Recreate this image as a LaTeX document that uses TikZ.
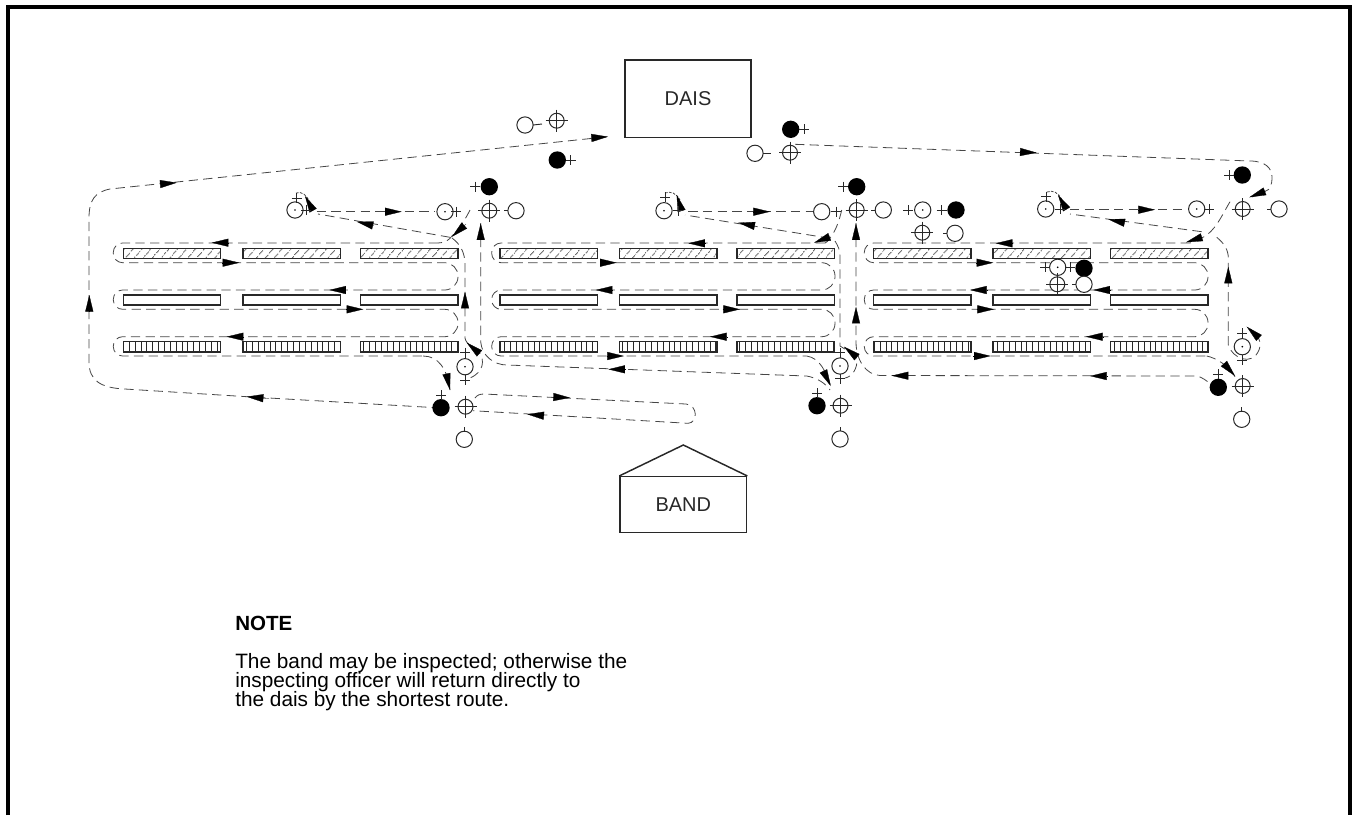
\documentclass[tikz,border=0pt]{standalone}
\usepackage{fontspec}
\setmainfont{Liberation Sans}
\usepackage{xcolor}
\usepackage{tikz}
\usetikzlibrary{calc,arrows.meta,patterns.meta}
\definecolor{routegray}{RGB}{70, 70, 70}
\definecolor{rankgray}{RGB}{40, 40, 40}
\definecolor{hatchgray}{RGB}{100, 100, 100}

% one inspection pass round the three ranks of a guard
\newcommand{\rankroute}[4]{%
    \draw[route] (#3,243) [rounded corners=7pt] -- (#1,243) -- (#1,262.7)
        [rounded corners=10pt] -- (#2,262.7) -- (#2,290)
        [rounded corners=7pt] -- (#1,290) -- (#1,309.3)
        [rounded corners=10pt] -- (#2,309.3) -- (#2,336.7)
        [rounded corners=7pt] -- (#1,336.7) -- (#1,356) -- (#4,356);
}
\newcommand{\crossman}[2]{%
    \node[crossman] (#1) at (#2) {};
    \draw[tickline] ($(#1)+(-11,0)$) -- ($(#1)+(11,0)$) ($(#1)+(0,-11)$) -- ($(#1)+(0,11)$);
}
\newcommand{\plusat}[1]{\draw[tickline] ($(#1)+(-5,0)$) -- ($(#1)+(5,0)$) ($(#1)+(0,-5)$) -- ($(#1)+(0,5)$);}

\begin{document}
\begin{tikzpicture}[x=0.75pt,y=-0.75pt,
    route/.style={routegray, line width=0.6pt, dash pattern=on 7pt off 4pt},
    tip/.style={-{Triangle[length=12.5pt,width=6pt]}, line width=0.2pt, black},
    rankbox/.style={draw=rankgray, line width=1pt, minimum width=73pt, minimum height=7.6pt, inner sep=0pt},
    hatchrank/.style={rankbox, pattern={Lines[angle=50,distance=5.4pt,line width=0.75pt]}, pattern color=hatchgray},
    plainrank/.style={rankbox},
    barrank/.style={rankbox, pattern={Lines[angle=90,distance=4.4pt,line width=0.45pt]}, pattern color=rankgray},
    tickline/.style={line width=0.7pt, rankgray},
    whiteman/.style={circle, draw=rankgray, fill=white, line width=0.75pt, minimum size=12.2pt, inner sep=0pt},
    blackman/.style={circle, fill=black, minimum size=13pt, inner sep=0pt},
    dotman/.style={whiteman, path picture={\fill[black] (path picture bounding box.center) circle (0.7pt);}},
    crossman/.style={whiteman, minimum size=11.2pt},
    building/.style={draw=rankgray, line width=1.1pt, font=\fontsize{15pt}{17pt}\selectfont, text=rankgray}]

    \useasboundingbox (0,0) rectangle (1358,815);
    % Frame, open at the foot of the sheet
    \draw[line width=3pt] (8,815) -- (8,7) -- (1350,7) -- (1350,815);

    % Dais and band
    \node[building, minimum width=94.5pt, minimum height=58pt, inner sep=0pt] (dais) at (688,98.7) {DAIS};
    \node[building, minimum width=95pt, minimum height=41.7pt, inner sep=0pt] (band) at (683.3,504.5) {BAND};
    \draw[line width=1.1pt, rankgray] (band.north west) -- (683.3,445) -- (band.north east);

    % Ranks
    \foreach \cx [count=\n] in {172,291.7,409.2,548.7,668.3,785.7,922.2,1041.8,1159.2} {
        \node[hatchrank] (front\n) at (\cx,253.5) {};
        \node[plainrank] (centre\n) at (\cx,300) {};
        \node[barrank] (rear\n) at (\cx,346.8) {};
    }

    % Passes through the ranks
    \rankroute{113.3}{458}{438}{423}
    \rankroute{491.7}{835}{825}{806.7}
    \rankroute{864.3}{1208}{1190}{1206.7}

    % First guard, right flank and return
    \draw[route] (470,210) .. controls (464,222) and (458,230) .. (452,236) .. controls (449,240) and (445,243) .. (438,243);
    \draw[route] (423,356) .. controls (438,356) and (447,368) .. (450,390);
    \draw[route] (452,238) .. controls (460,244) and (465,252) .. (465,265) -- (465,338) .. controls (466,345) and (476,348) .. (479,352) .. controls (485,360) and (484,372) .. (470,378);
    % To the band and back
    \draw[route] (475,398) .. controls (477,395) and (480,394) .. (484,394) -- (686,404) .. controls (698,405) and (698,423) .. (688,423.3) -- (473,410.7);
    % Second guard
    \draw[route] (841.7,210) .. controls (839,222) and (835,232) .. (830,238) .. controls (828,241) and (826,243) .. (825,243);
    \draw[route] (806.7,356) .. controls (820,358) and (826,372) .. (830.7,386);
    \draw[route] (835,241) .. controls (838,246) and (840,250) .. (840,256) -- (840,346) .. controls (844,349) and (853,352) .. (856.7,359) .. controls (858,368) and (852,377) .. (845,378);
    % Third guard
    \draw[route] (1230,201.7) .. controls (1222,215) and (1215,232) .. (1201.7,238) -- (1190,243);
    \draw[route] (1206.7,356) .. controls (1216,358) and (1228,365) .. (1235,376.7);
    \draw[route] (1216.7,237.3) .. controls (1224,243) and (1228.3,250) .. (1228.3,258) -- (1228.3,345) .. controls (1232,358) and (1252,367) .. (1259,350) .. controls (1262,342) and (1258,334) .. (1250,329);

    % Rear of the ranks between the guards
    \draw[route] (480.7,223) -- (480.7,342) .. controls (482,356) and (494,365) .. (507,365) -- (806.7,376) .. controls (818,378) and (826,384) .. (830,390);
    \draw[route] (856,223) -- (856,342) .. controls (856,360) and (866,375) .. (880,375.5) -- (1196.7,376) .. controls (1202,377) and (1207,381) .. (1211.7,385);

    % Round to the dais
    \draw[route] (441,408) -- (247,396.7) -- (125,389) .. controls (100,388) and (89,380) .. (89,362) -- (89,218) .. controls (89,200) and (95,192) .. (110,189) -- (608,136.7);
    \draw[route] (795,144.3) -- (1250,161) .. controls (1265,161) and (1272,168) .. (1272,177) .. controls (1272,185) and (1270,190) .. (1265.7,191) -- (1252,197);

    % Out to the flank markers and back
    \draw[route] (316.7,211.7) -- (435,211.7);
    \draw[route] (450,237.3) -- (318,214);
    \draw[route] (688.3,211.7) -- (813.3,211.7);
    \draw[route] (830,238.3) -- (685,215);
    \draw[route] (1070,209.7) -- (1185,209.7);
    \draw[route] (1201.7,231.7) -- (1070,214);
    % Turns at the flank markers
    \draw[route, dash pattern=on 2pt off 1pt] (296,193) .. controls (302,191) and (307,195) .. (310,203);
    \draw[route, dash pattern=on 2pt off 1pt] (665,193) .. controls (671,191) and (676,193) .. (680,200);
    \draw[route, dash pattern=on 2pt off 1pt] (1047,192) .. controls (1053,190) and (1058,192) .. (1062,200);

    % Direction of march
    \draw[tip] (228,242.7) -- (211.7,242.7);
    \draw[tip] (222,262.7) -- (239.3,262.7);
    \draw[tip] (345,290) -- (329.3,290);
    \draw[tip] (346,309.3) -- (363.3,309.3);
    \draw[tip] (244,336.7) -- (226.7,336.7);
    \draw[tip] (446.7,375) -- (450,390);
    \draw[tip] (269,398.7) -- (246.7,396.7);
    \draw[tip] (89.3,310) -- (89.3,295);
    \draw[tip] (160.7,184) -- (176.7,182.7);
    \draw[tip] (590.7,138) -- (608,136.7);
    \draw[tip] (385,211.7) -- (401.7,211.7);
    \draw[tip] (374,225.7) -- (356.7,221.7);
    \draw[tip] (466,224) -- (452,236.7);
    \draw[tip] (480.7,238) -- (480.7,223.3);
    \draw[tip] (465,306.7) -- (465,291.7);
    \draw[tip] (479,353) -- (466.7,342.7);
    \draw[tip] (553.3,397) -- (570,397.7);
    \draw[tip] (544,415.7) -- (527.3,414.3);
    \draw[tip] (705,243.3) -- (688.3,243.3);
    \draw[tip] (600,262.7) -- (616.7,262.7);
    \draw[tip] (611.7,290) -- (595.7,290);
    \draw[tip] (722.7,309.3) -- (740,309.3);
    \draw[tip] (727.3,336.7) -- (710,336.7);
    \draw[tip] (606.7,356) -- (624,356);
    \draw[tip] (625,369.3) -- (608.3,369.3);
    \draw[tip] (823.3,370.7) -- (830.7,386);
    \draw[tip] (310,205) -- (305,196);
    \draw[tip] (681,209) -- (676.7,195);
    \draw[tip] (755,211.7) -- (770,211.7);
    \draw[tip] (755,226) -- (738.3,222.7);
    \draw[tip] (830,236.7) -- (814,242.7);
    \draw[tip] (856.7,357) -- (844,346.7);
    \draw[tip] (856,236.7) -- (856,223.3);
    \draw[tip] (856,320) -- (856,306.7);
    \draw[tip] (1011.7,243.3) -- (995.7,243.3);
    \draw[tip] (976,262.7) -- (993.3,262.7);
    \draw[tip] (987.3,290) -- (970,290);
    \draw[tip] (1111,290) -- (1093.3,290);
    \draw[tip] (976.7,309.3) -- (994,309.3);
    \draw[tip] (1103.3,336.7) -- (1086,336.7);
    \draw[tip] (973.3,356) -- (990.7,356);
    \draw[tip] (1224.3,364) -- (1235,376);
    \draw[tip] (907.3,375.7) -- (891.7,375.7);
    \draw[tip] (1107.7,376) -- (1090,376);
    \draw[tip] (1228.3,281.7) -- (1228.3,266.7);
    \draw[tip] (1258.3,337.3) -- (1246.7,326.7);
    \draw[tip] (1201.7,237.3) -- (1186,242.3);
    \draw[tip] (1020,152) -- (1036.7,152.7);
    \draw[tip] (1265.7,191) -- (1249.3,197.3);
    \draw[tip] (1138.3,209.7) -- (1155,209.7);
    \draw[tip] (1124.3,222.7) -- (1108.3,219.3);
    \draw[tip] (1065,206.7) -- (1058,195);

    % Officers at the dais
    \node[whiteman] (salutewhite) at (525,125) {};
    \draw[tickline] (533,125) -- (542,124);
    \crossman{salutecross}{556.7,120.7}
    \node[blackman] (saluteblack) at (557.3,160) {};
    \plusat{570.7,160}
    \node[blackman] (returnblack) at (790.7,129.3) {};
    \plusat{804,129.3}
    \node[whiteman] (returnwhite) at (755,153.3) {};
    \draw[tickline] (763,153) -- (771,153);
    \crossman{returncross}{790,152.7}

    % Officers, first guard
    \node[dotman] (flankdotA) at (295,210) {};
    \plusat{296.5,198}
    \plusat{306,210}
    \node[dotman] (flankdotB) at (445,211.7) {};
    \plusat{456,211.7}
    \node[blackman] (headblackA) at (489.3,186.7) {};
    \plusat{475,186.7}
    \crossman{headcrossA}{489.3,210.7}
    \node[whiteman] (headwhiteA) at (516,210.7) {};
    \draw[tickline] (504,210.7) -- (508,210.7);
    \node[dotman] (reardotA) at (465,366.7) {};
    \plusat{465,352.7}
    \plusat{465,380}
    \node[blackman] (rearblackA) at (441,407.7) {};
    \plusat{441,395}
    \crossman{rearcrossA}{465.5,406.7}
    \node[whiteman] (rearwhiteA) at (464.3,439.3) {};
    \draw[tickline] (464.3,427) -- (464.3,431.5);

    % Officers, second guard
    \node[dotman] (flankdotC) at (664,210.7) {};
    \plusat{665,197}
    \plusat{678,210.7}
    \node[whiteman] (flankwhiteC) at (821.7,211.7) {};
    \plusat{836,211.7}
    \node[blackman] (headblackB) at (856.7,186.7) {};
    \plusat{843.3,186.7}
    \crossman{headcrossB}{856.7,210}
    \node[whiteman] (headwhiteB) at (883.3,210) {};
    \draw[tickline] (871,210) -- (875,210);
    \node[dotman] (reardotB) at (840,366) {};
    \plusat{840,352.7}
    \plusat{840,378.5}
    \node[blackman] (rearblackB) at (817,405.7) {};
    \plusat{817,393}
    \crossman{rearcrossB}{840.5,405.7}
    \node[whiteman] (rearwhiteB) at (840,439) {};
    \draw[tickline] (840,427) -- (840,431);

    % Officers standing between the guards
    \node[dotman] (middot) at (922.7,210) {};
    \plusat{908.3,210}
    \node[blackman] (midblack) at (956,210) {};
    \plusat{941.7,210}
    \crossman{midcross}{922.3,232.7}
    \node[whiteman] (midwhite) at (955,233.3) {};
    \draw[tickline] (943,233.3) -- (947,233.3);

    % Officers in the third guard
    \node[dotman] (rankdot) at (1057.7,267.3) {};
    \plusat{1045,267.3}
    \plusat{1070,267.3}
    \node[blackman] (rankblack) at (1084,268.3) {};
    \crossman{rankcross}{1057.3,284.3}
    \node[whiteman] (rankwhite) at (1084,284.3) {};
    \draw[tickline] (1072,284.3) -- (1076,284.3);

    % Officers, third guard
    \node[dotman] (flankdotD) at (1045.7,209) {};
    \plusat{1046,196.7}
    \plusat{1060,209}
    \node[dotman] (flankdotE) at (1196.7,209) {};
    \plusat{1209,209}
    \node[blackman] (headblackC) at (1242.3,175) {};
    \plusat{1229,175}
    \crossman{headcrossC}{1242.7,209}
    \node[whiteman] (headwhiteC) at (1279,209) {};
    \draw[tickline] (1267,209) -- (1271,209);
    \node[dotman] (reardotC) at (1242.3,346.7) {};
    \plusat{1242.3,333.3}
    \plusat{1242.3,360}
    \node[blackman] (rearblackC) at (1218.3,387.3) {};
    \plusat{1218.3,374.3}
    \crossman{rearcrossC}{1242.7,386}
    \node[whiteman] (rearwhiteC) at (1241.7,419.3) {};
    \draw[tickline] (1241.7,407) -- (1241.7,411.5);

    % Note
    \node[anchor=west, inner sep=0pt, font=\fontsize{15.4pt}{18pt}\selectfont\bfseries] (notehead) at (235,623) {NOTE};
    \node[anchor=north west, align=left, inner sep=0pt, font=\fontsize{15.6pt}{14pt}\selectfont] (notetext) at (235,653) {The band may be inspected; otherwise the\\[-1.1pt]inspecting officer will return directly to\\[-1.1pt]the dais by the shortest route.};
\end{tikzpicture}
\end{document}
